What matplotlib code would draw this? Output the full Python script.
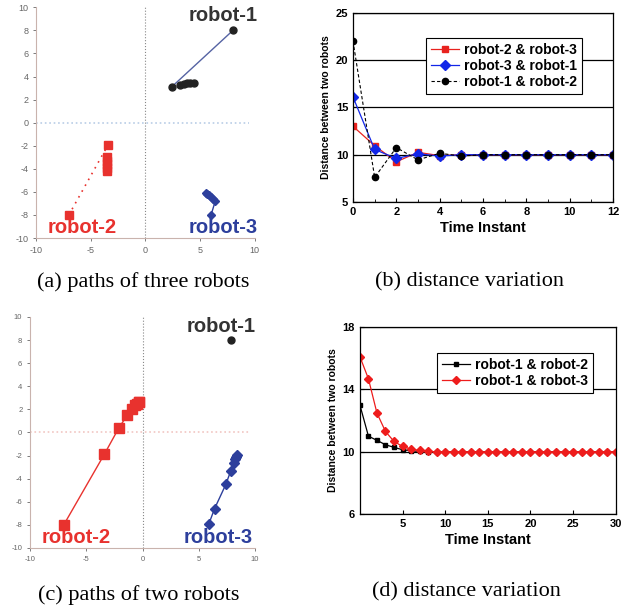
import matplotlib
matplotlib.use("Agg")
import matplotlib.pyplot as plt
from matplotlib.ticker import MultipleLocator

plt.rcParams["font.family"] = ["Liberation Sans", "DejaVu Sans"]
plt.rcParams["axes.unicode_minus"] = False

# (a) paths of three robots
R1A_X = [8.0, 2.4, 3.2, 3.5, 3.8, 4.1, 4.4]
R1A_Y = [8.0, 3.1, 3.3, 3.35, 3.4, 3.4, 3.4]
R2A_X = [-7.0, -3.4, -3.5, -3.5, -3.5, -3.5, -3.5]
R2A_Y = [-8.0, -1.9, -3.0, -3.3, -3.6, -3.9, -4.2]
R3A_X = [6.0, 6.4, 6.2, 6.0, 5.8, 5.6, 5.5]
R3A_Y = [-8.0, -6.75, -6.6, -6.45, -6.3, -6.15, -6.1]

# (c) paths of two robots (robot-1 fixed)
R1C_X = [7.9]
R1C_Y = [8.0]
R2C_X = [-7.0, -3.4, -2.1, -1.35, -0.9, -0.65, -0.45, -0.35, -0.3]
R2C_Y = [-8.0, -1.9, 0.4, 1.5, 2.05, 2.35, 2.5, 2.6, 2.65]
R3C_X = [5.9, 6.4, 7.4, 7.85, 8.1, 8.2, 8.3, 8.4]
R3C_Y = [-7.9, -6.6, -4.5, -3.3, -2.65, -2.3, -2.1, -1.95]

# (b) distance variation, three robots
T_B = [0, 1, 2, 3, 4, 5, 6, 7, 8, 9, 10, 11, 12]
D23_B = [13.0, 10.95, 9.25, 10.25, 9.9, 10.0, 10.0, 10.0, 10.0, 10.0, 10.0, 10.0, 10.0]
D31_B = [16.1, 10.55, 9.6, 10.1, 9.85, 10.0, 10.0, 10.0, 10.0, 10.0, 10.0, 10.0, 10.0]
D12_B = [22.0, 7.6, 10.75, 9.45, 10.15, 9.85, 10.0, 10.0, 10.0, 10.0, 10.0, 10.0, 10.0]

# (d) distance variation, two robots
T_D = list(range(31))
D12_D = [13.0, 11.0, 10.73, 10.45, 10.28, 10.13, 10.06, 10.02] + [10.0] * 23
D13_D = [16.1, 14.68, 12.48, 11.3, 10.66, 10.34, 10.17, 10.08, 10.02] + [10.0] * 22

PATH_LABELS = ["robot-1", "robot-2", "robot-3"]
PATH_COLORS = ["#333333", "#e8322e", "#2d3f9c"]

CAPTIONS = ["(a) paths of three robots", "(b) distance variation",
            "(c) paths of two robots", "(d) distance variation"]


def style_paths(ax, hline_color, labelsize):
    ax.set_xlim(-10, 10)
    ax.set_ylim(-10, 10)
    for side in ("top", "right"):
        ax.spines[side].set_visible(False)
    ax.spines["left"].set_color("#c9b3ad")
    ax.spines["bottom"].set_color("#c9b3ad")
    ax.xaxis.set_major_locator(MultipleLocator(5))
    ax.yaxis.set_major_locator(MultipleLocator(2))
    ax.tick_params(labelsize=labelsize, colors="#666666", length=2, width=0.6)
    ax.axvline(0, color="#888888", lw=0.8, ls=":")
    ax.plot([-10, 9.5], [0, 0], color=hline_color, lw=1.2, ls=":")
    ax.patch.set_alpha(0)


def label_robots(ax, positions):
    for name, color, (x, y) in zip(PATH_LABELS, PATH_COLORS, positions):
        ax.text(x, y, name, color=color, fontsize=14.5, fontweight="bold",
                ha="center", va="center")


def style_dist(ax):
    for side in ax.spines.values():
        side.set_linewidth(0.9)
    ax.tick_params(direction="in", length=3, width=0.8, labelsize=8,
                   top=False, right=False)
    ax.tick_params(which="minor", direction="in", length=2, width=0.6)
    for lab in ax.get_xticklabels() + ax.get_yticklabels():
        lab.set_fontweight("bold")
    ax.yaxis.grid(True, color="black", lw=0.9)
    ax.set_axisbelow(True)
    ax.set_xlabel("Time Instant", fontsize=10.5, fontweight="bold", labelpad=3)
    ax.set_ylabel("Distance between two robots", fontsize=7.5,
                  fontweight="bold", labelpad=3)


def add_legend(ax, anchor):
    leg = ax.legend(loc="upper left", bbox_to_anchor=anchor,
                    prop={"size": 10, "weight": "semibold"},
                    frameon=True, fancybox=False, edgecolor="black",
                    framealpha=1, borderpad=0.35, labelspacing=0.15,
                    handlelength=2.0, handletextpad=0.4)
    leg.get_frame().set_linewidth(0.8)


fig = plt.figure(figsize=(6.27, 6.12), dpi=100)

# (a)
ax_a = fig.add_axes([0.0574, 0.611, 0.349, 0.377])
style_paths(ax_a, "#b9cde6", 6.5)
ax_a.plot(R1A_X[:2], R1A_Y[:2], color="#5563a3", lw=1.0)
ax_a.plot(R1A_X, R1A_Y, ls="none", marker="o", ms=5, color="#222222")
ax_a.plot(R2A_X[:2], R2A_Y[:2], color="#e8322e", lw=1.2, ls=(0, (1, 3)))
ax_a.plot(R2A_X, R2A_Y, ls="none", marker="s", ms=5.5, color="#e8322e")
ax_a.plot(R3A_X, R3A_Y, color="#2d3f9c", lw=1.0, marker="D", ms=4)
label_robots(ax_a, [(7.1, 9.3), (-5.8, -9.05), (7.1, -9.05)])

# (c)
ax_c = fig.add_axes([0.0478, 0.1046, 0.359, 0.3775])
style_paths(ax_c, "#f1c6c2", 5.5)
ax_c.plot(R1C_X, R1C_Y, ls="none", marker="o", ms=5, color="#222222")
ax_c.plot(R2C_X, R2C_Y, color="#e8322e", lw=1.0, marker="s", ms=6.5)
ax_c.plot(R3C_X, R3C_Y, color="#2d3f9c", lw=1.0, marker="D", ms=5)
label_robots(ax_c, [(7.0, 9.2), (-5.9, -9.1), (6.7, -9.1)])

# (b)
ax_b = fig.add_axes([0.563, 0.670, 0.4147, 0.309])
ax_b.plot(T_B, D23_B, color="#e8221e", lw=0.9, marker="s", ms=5,
          label="robot-2 & robot-3")
ax_b.plot(T_B, D31_B, color="#1226e8", lw=0.9, marker="D", ms=5,
          label="robot-3 & robot-1")
ax_b.plot(T_B, D12_B, color="black", lw=0.8, ls=(0, (3, 2)), marker="o",
          ms=4.5, label="robot-1 & robot-2")
ax_b.set_xlim(0, 12)
ax_b.set_ylim(5, 25)
ax_b.xaxis.set_major_locator(MultipleLocator(2))
ax_b.xaxis.set_minor_locator(MultipleLocator(1))
ax_b.yaxis.set_major_locator(MultipleLocator(5))
style_dist(ax_b)
add_legend(ax_b, (0.255, 0.905))

# (d)
ax_d = fig.add_axes([0.574, 0.160, 0.408, 0.3056])
ax_d.plot(T_D, D12_D, color="black", lw=0.9, marker="s", ms=3.2,
          label="robot-1 & robot-2")
ax_d.plot(T_D, D13_D, color="#ee1c1c", lw=0.9, marker="D", ms=4.3,
          label="robot-1 & robot-3")
ax_d.set_xlim(0, 30)
ax_d.set_ylim(6, 18)
ax_d.set_xticks([5, 10, 15, 20, 25, 30])
ax_d.set_yticks([6, 10, 14, 18])
style_dist(ax_d)
add_legend(ax_d, (0.275, 0.9))

# captions
for (x, y), text in zip([(143, 282), (469, 282), (139, 595), (466, 592)], CAPTIONS):
    fig.text(x / 627, 1 - y / 612, text, family=["Liberation Serif", "DejaVu Serif"],
             fontsize=16, ha="center", va="center")

fig.savefig("out.png", dpi=100)
